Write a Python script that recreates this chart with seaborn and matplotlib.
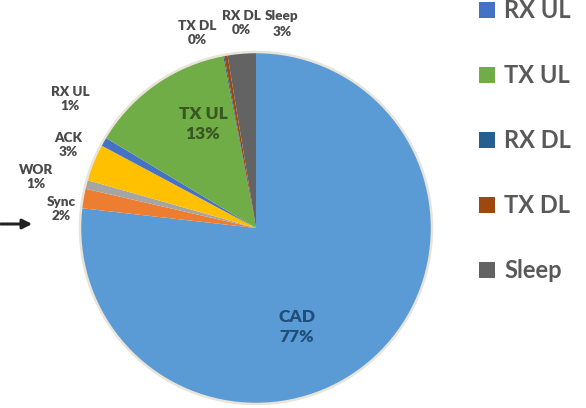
import matplotlib
matplotlib.use("Agg")
import matplotlib.pyplot as plt
from matplotlib.patches import Circle
import seaborn as sns

# Share of time per radio state (percent)
states = ["CAD", "Sync", "WOR", "ACK", "RX UL", "TX UL", "RX DL", "TX DL", "Sleep"]
shares = [76.8, 1.8, 0.8, 3.4, 0.8, 13.4, 0.1, 0.3, 2.6]
legend_states = ["RX UL", "TX UL", "RX DL", "TX DL", "Sleep"]

office_colors = ["#5B9BD5", "#ED7D31", "#A5A5A5", "#FFC000", "#4472C4",
                 "#70AD47", "#255E91", "#9E480E", "#636363"]

sns.set_theme(style="white")
plt.rcParams["font.family"] = ["Lato", "DejaVu Sans"]
palette = sns.color_palette(office_colors)

W, H = 586, 408
fig = plt.figure(figsize=(W / 100, H / 100), dpi=100)
ax = fig.add_axes([0, 0, 1, 1])

cx, cy, r = 256, H - 228, 176
wedges, _ = ax.pie(shares, colors=palette, startangle=90, counterclock=False,
                   center=(cx, cy), radius=r,
                   wedgeprops=dict(linewidth=0))
ax.add_patch(Circle((cx, cy), r, fill=False, ec="#e9e4da", lw=1.8, zorder=3))

ax.set_xlim(0, W)
ax.set_ylim(0, H)
ax.set_aspect("equal")
ax.axis("off")

total = sum(shares)
def label(name):
    v = shares[states.index(name)]
    return f"{name}\n{round(v / total * 100):.0f}%"

# Outside data labels (x, y in pixel rows from the top)
outside = {
    "TX DL": (197, 33), "RX DL": (241, 23), "Sleep": (282, 24),
    "RX UL": (70, 99), "ACK": (68, 145), "WOR": (36, 177), "Sync": (61, 209),
}
for name, (x, y) in outside.items():
    ax.text(x, H - y, label(name), ha="center", va="center", fontsize=9.7,
            fontweight="heavy", color="#4a4a4a", linespacing=1.3)

# Inside labels
ax.text(203, H - 124, label("TX UL"), ha="center", va="center", fontsize=12.5,
        fontweight="heavy", color="#385723", linespacing=1.3)
ax.text(297, H - 327, label("CAD"), ha="center", va="center", fontsize=12.5,
        fontweight="heavy", color="#1F4E79", linespacing=1.3)

# Pointer arrow on the left
ax.annotate("", xy=(35, H - 224), xytext=(-2, H - 224),
            arrowprops=dict(arrowstyle="-|>", color="#222222", lw=2.2,
                            mutation_scale=14))

# Legend for the smaller states
handles = [wedges[states.index(s)] for s in legend_states]
ax.legend(handles, legend_states, loc="upper left",
          bbox_to_anchor=(479, H + 1), bbox_transform=ax.transData,
          frameon=False, prop=dict(family="Lato", weight="bold", size=17),
          labelcolor="#595959", handlelength=0.68, handleheight=0.68,
          handletextpad=0.4, labelspacing=1.78, borderpad=0, borderaxespad=0)

fig.savefig("out.png", dpi=100)
